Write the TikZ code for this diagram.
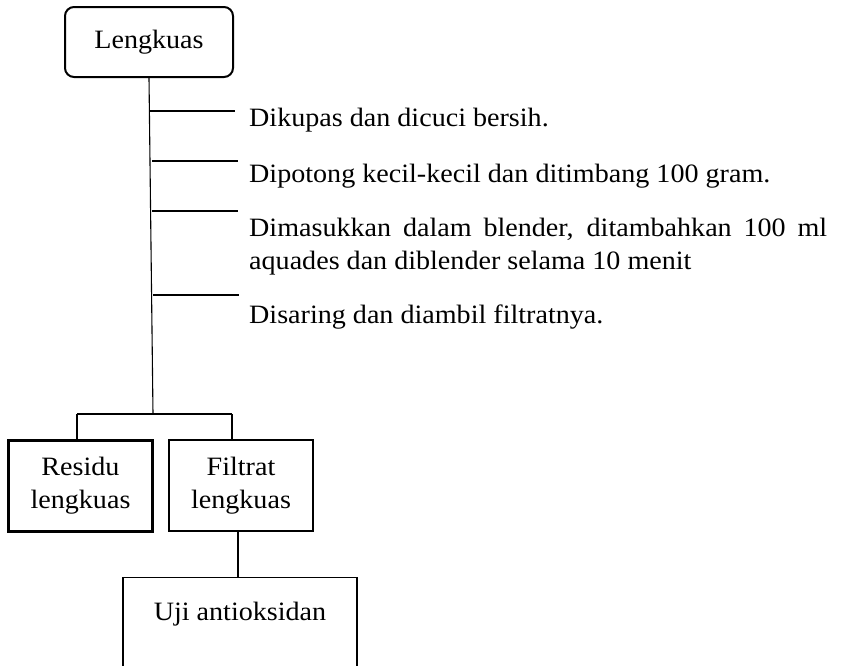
\documentclass[tikz,border=0pt]{standalone}
\usepackage{fontspec}
\setmainfont[FakeStretch=1.06]{Liberation Serif}
\usetikzlibrary{positioning}

\tikzset{
  startbox/.style={draw,line width=2pt,rounded corners=9pt,minimum width=168pt,minimum height=70pt,inner sep=0pt},
  hasilbox/.style={draw,line width=2.6pt,minimum width=144pt,minimum height=91pt,align=center,inner sep=0pt},
  ujibox/.style={draw,line width=1.4pt,minimum width=234pt,inner sep=0pt,text height=43pt,text depth=90pt},
  langkah/.style={anchor=base west,inner sep=0pt,align=left},
  garis/.style={line width=1.1pt}
}

\begin{document}
\begin{tikzpicture}[x=1pt,y=-1pt,font=\fontsize{26.5}{33}\selectfont]
    \clip (0,0) rectangle (842,665);
    \node[startbox] (lengkuas) at (149,42) {Lengkuas};
    % langkah kerja
    \node[langkah] (kupas) at (249,126) {Dikupas dan dicuci bersih.};
    \node[langkah] (potong) at (249,182) {Dipotong kecil-kecil dan ditimbang 100 gram.};
    \node[langkah,text width=578pt,align=justify] (blender) at (249,236)
        {Dimasukkan dalam blender, ditambahkan 100 ml aquades dan diblender selama 10 menit};
    \node[langkah] (saring) at (249,323) {Disaring dan diambil filtratnya.};
    % hasil
    \node[hasilbox] (residu) at (80.5,486) {Residu\\lengkuas};
    \node[hasilbox] (filtrat) at (241,485.5) {Filtrat\\lengkuas};
    \node[ujibox,anchor=north] (uji) at (240,577) {Uji antioksidan};
    % batang dan cabang
    \coordinate (bawah) at (153,414);
    \coordinate (kiri) at (77,414);
    \coordinate (kanan) at (232,414);
    \draw[garis] (lengkuas.south) -- (bawah);
    \foreach \y/\x in {111/149.4,161/152,211/152,295/153}
        \draw[garis] (\x,\y) -- ++(86,0);
    \draw[garis] (kiri) -- (kanan);
    \draw[garis] (kiri) -- (kiri |- residu.north);
    \draw[garis] (kanan) -- (kanan |- filtrat.north);
    \draw[garis] (uji.north -| 238,0) -- (filtrat.south -| 238,0);
\end{tikzpicture}
\end{document}
